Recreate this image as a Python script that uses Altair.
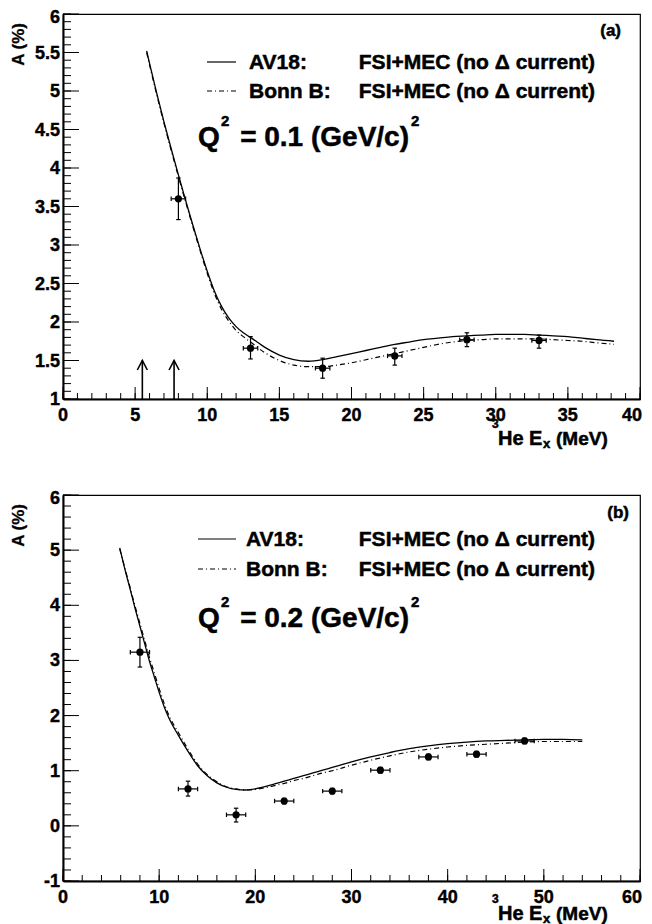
import altair as alt
import pandas as pd

FONT = "Arial"
BOLD = 700

# ---------------- panel (a): Q^2 = 0.1 (GeV/c)^2 ----------------
a_curve_x = [5.8, 6, 6.5, 7, 7.5, 8, 8.5, 9, 9.5, 10, 10.5, 11, 11.5, 12, 12.5, 13,
             14, 15, 16, 17, 18, 19, 20, 21, 22, 23, 24, 25, 26, 27, 28, 29, 30,
             31, 32, 33, 34, 35, 36, 37, 38.2]
a_av18 = [5.52, 5.36, 4.97, 4.60, 4.25, 3.91, 3.58, 3.26, 2.95, 2.66, 2.40, 2.20, 2.05, 1.94, 1.86, 1.80,
          1.67, 1.57, 1.51, 1.49, 1.51, 1.55, 1.59, 1.63, 1.67, 1.71, 1.74, 1.77, 1.79, 1.81, 1.82, 1.83, 1.84,
          1.84, 1.84, 1.83, 1.82, 1.81, 1.79, 1.77, 1.75]
a_bonn = [5.50, 5.34, 4.95, 4.58, 4.23, 3.89, 3.56, 3.24, 2.93, 2.63, 2.37, 2.16, 2.01, 1.89, 1.81, 1.74,
          1.60, 1.50, 1.44, 1.42, 1.42, 1.44, 1.47, 1.51, 1.55, 1.59, 1.63, 1.67, 1.71, 1.74, 1.76, 1.77, 1.78,
          1.78, 1.78, 1.78, 1.77, 1.76, 1.75, 1.73, 1.71]
a_pts_x = [8, 13, 18, 23, 28, 33]
a_pts_y = [3.60, 1.66, 1.40, 1.56, 1.77, 1.76]
a_pts_ylo = [3.33, 1.52, 1.27, 1.44, 1.68, 1.66]
a_pts_yhi = [3.87, 1.81, 1.53, 1.66, 1.86, 1.83]
a_pts_xerr = [0.5, 0.5, 0.5, 0.5, 0.5, 0.5]
a_arrow_x = [5.5, 7.7]
a_arrow_base = [1.0, 1.0]
a_arrow_tip = [1.5, 1.5]

# ---------------- panel (b): Q^2 = 0.2 (GeV/c)^2 ----------------
b_curve_x = [5.9, 6.5, 7, 7.5, 8, 8.5, 9, 9.5, 10, 10.5,
             11, 12, 13, 14, 15, 16, 17, 18, 19, 20, 21, 22, 23, 24, 25, 26, 27, 28,
             30, 32, 34, 36, 38, 40, 42, 44, 46, 48, 50, 52, 54]
b_av18 = [5.04, 4.61, 4.28, 3.94, 3.62, 3.30, 2.98, 2.70, 2.42, 2.17,
          1.96, 1.64, 1.35, 1.09, 0.91, 0.78, 0.70, 0.66, 0.65, 0.67, 0.71, 0.76, 0.81, 0.86, 0.91, 0.96, 1.01, 1.06,
          1.16, 1.25, 1.33, 1.40, 1.45, 1.49, 1.52, 1.54, 1.55, 1.56, 1.57, 1.57, 1.56]
b_bonn = [5.02, 4.63, 4.31, 3.98, 3.67, 3.36, 3.05, 2.77, 2.49, 2.23,
          2.01, 1.69, 1.39, 1.12, 0.93, 0.80, 0.71, 0.67, 0.65, 0.66, 0.69, 0.73, 0.77, 0.82, 0.86, 0.91, 0.96, 1.00,
          1.10, 1.19, 1.27, 1.34, 1.39, 1.43, 1.46, 1.48, 1.50, 1.52, 1.53, 1.53, 1.53]
b_pts_x = [8, 13, 18, 23, 28, 33, 38, 43, 48]
b_pts_y = [3.15, 0.67, 0.20, 0.45, 0.63, 1.01, 1.25, 1.30, 1.54]
b_pts_ylo = [2.88, 0.54, 0.07, 0.40, 0.58, 0.96, 1.20, 1.25, 1.49]
b_pts_yhi = [3.42, 0.81, 0.32, 0.50, 0.68, 1.06, 1.30, 1.35, 1.59]
b_pts_xerr = [1.0, 1.0, 1.0, 1.0, 1.0, 1.0, 1.0, 1.0, 1.0]

# axis ticks / labels
a_x_major = [0, 5, 10, 15, 20, 25, 30, 35, 40]
a_x_minor = list(range(0, 41))
a_y_major = [1, 1.5, 2, 2.5, 3, 3.5, 4, 4.5, 5, 5.5, 6]
a_y_minor = [round(1 + 0.1 * i, 1) for i in range(51)]
b_x_major = [0, 10, 20, 30, 40, 50, 60]
b_x_minor = list(range(0, 61, 2))
b_y_major = [-1, 0, 1, 2, 3, 4, 5, 6]
b_y_minor = [round(-1 + 0.2 * i, 1) for i in range(36)]

LEG_AV = "AV18:"
LEG_BONN = "Bonn B:"
LEG_DESC = "FSI+MEC (no \u0394 current)"
LABEL_SIZE = 18


def one():
    return pd.DataFrame({"d": [0]})


def txt(text, x, y, size, align="left", baseline="middle", angle=0, sw=0.5):
    kw = dict(text=text, font=FONT, fontWeight=BOLD, fontSize=size, align=align,
              baseline=baseline, color="black")
    if sw:
        kw["stroke"] = "black"
        kw["strokeWidth"] = sw
    if angle:
        kw["angle"] = angle
    return alt.Chart(one()).mark_text(**kw).encode(x=alt.value(x), y=alt.value(y))


def panel(p):
    W, H = p["W"], p["H"]
    xs = alt.Scale(domain=p["xdom"], nice=False, zero=False)
    ys = alt.Scale(domain=p["ydom"], nice=False, zero=False)
    xax = alt.Axis(values=p["xmaj"], labels=False, title=None)
    yax = alt.Axis(values=p["ymaj"], labels=False, title=None)

    def X(f):
        return alt.X(f, type="quantitative", scale=xs, axis=xax, title=None)

    def Y(f):
        return alt.Y(f, type="quantitative", scale=ys, axis=yax, title=None)

    curves = pd.DataFrame({"x": p["cx"], "av": p["av"], "bonn": p["bonn"]})
    av = alt.Chart(curves).mark_line(color="black", strokeWidth=1.3, interpolate="monotone").encode(
        x=X("x"), y=Y("av"))
    bonn = alt.Chart(curves).mark_line(color="black", strokeWidth=1.2, interpolate="monotone",
                                       strokeDash=[5, 3, 1, 3]).encode(x=X("x"), y=Y("bonn"))

    pts = pd.DataFrame({"x": p["px"], "y": p["py"], "lo": p["plo"], "hi": p["phi"]})
    pts["xlo"] = [a - e for a, e in zip(p["px"], p["pxe"])]
    pts["xhi"] = [a + e for a, e in zip(p["px"], p["pxe"])]
    ebar_y = alt.Chart(pts).mark_rule(color="black", strokeWidth=1.2).encode(
        x=X("x"), y=Y("lo"), y2="hi")
    ebar_x = alt.Chart(pts).mark_rule(color="black", strokeWidth=1.2).encode(
        x=X("xlo"), x2="xhi", y=Y("y"))
    caps_h = pd.DataFrame({"x": p["px"] + p["px"], "y": p["plo"] + p["phi"]})
    caps_v = pd.DataFrame({"x": list(pts["xlo"]) + list(pts["xhi"]), "y": p["py"] + p["py"]})
    cap_h = alt.Chart(caps_h).mark_point(shape="M-1,0L1,0", size=20, filled=False, color="black",
                                         strokeWidth=1.2, opacity=1).encode(x=X("x"), y=Y("y"))
    cap_v = alt.Chart(caps_v).mark_point(shape="M0,-1L0,1", size=20, filled=False, color="black",
                                         strokeWidth=1.2, opacity=1).encode(x=X("x"), y=Y("y"))
    dots = alt.Chart(pts).mark_circle(size=52, color="black", opacity=1).encode(x=X("x"), y=Y("y"))

    layers = [av, bonn, ebar_y, ebar_x, cap_h, cap_v, dots]

    # inward ROOT-style ticks
    for vals, ln in ((p["xmin"], 6), (p["xmaj"], 12)):
        layers.append(alt.Chart(pd.DataFrame({"t": vals})).mark_rule(color="black", strokeWidth=1).encode(
            x=X("t"), y=alt.value(H), y2=alt.value(H - ln)))
    for vals, ln in ((p["ymin"], 8), (p["ymaj"], 16)):
        layers.append(alt.Chart(pd.DataFrame({"t": vals})).mark_rule(color="black", strokeWidth=1).encode(
            y=Y("t"), x=alt.value(0), x2=alt.value(ln)))

    # tick labels (bold, heavy) placed through the scales
    lab_kw = dict(font=FONT, fontWeight=BOLD, fontSize=LABEL_SIZE, color="black",
                  stroke="black", strokeWidth=0.4)
    xl = pd.DataFrame({"t": p["xmaj"], "lab": [f"{v:g}" for v in p["xmaj"]]})
    layers.append(alt.Chart(xl.iloc[:-1]).mark_text(align="center", baseline="alphabetic", **lab_kw).encode(
        x=X("t"), y=alt.value(H + 22), text="lab:N"))
    layers.append(alt.Chart(xl.iloc[-1:]).mark_text(align="right", baseline="alphabetic", dx=2, **lab_kw).encode(
        x=X("t"), y=alt.value(H + 22), text="lab:N"))
    yl = pd.DataFrame({"t": p["ymaj"], "lab": [f"{v:g}" for v in p["ymaj"]]})
    layers.append(alt.Chart(yl.iloc[:-1]).mark_text(align="right", baseline="middle", dy=1, **lab_kw).encode(
        y=Y("t"), x=alt.value(-3), text="lab:N"))
    layers.append(alt.Chart(yl.iloc[-1:]).mark_text(align="right", baseline="middle", dy=4, **lab_kw).encode(
        y=Y("t"), x=alt.value(-3), text="lab:N"))

    if p.get("arrows"):
        ax, ab, at = p["arrows"]
        arr = pd.DataFrame({"x": ax, "b": ab, "t": at})
        layers.append(alt.Chart(arr).mark_rule(color="black", strokeWidth=1.6).encode(
            x=X("x"), y=Y("b"), y2="t"))
        layers.append(alt.Chart(arr).mark_point(shape="M-1,1.9L0,0L1,1.9", size=100, filled=False,
                                                color="black", strokeWidth=1.6, opacity=1).encode(
            x=X("x"), y=Y("t")))

    L = p["lay"]
    # legend
    layers.append(alt.Chart(one()).mark_rule(color="black", strokeWidth=1.2).encode(
        x=alt.value(L["lx0"]), x2=alt.value(173), y=alt.value(L["r1"] - 1)))
    layers.append(alt.Chart(one()).mark_rule(color="black", strokeWidth=1.2, strokeDash=[5, 3, 1, 3]).encode(
        x=alt.value(L["lx0"]), x2=alt.value(173), y=alt.value(L["r2"] - 1)))
    qb, xtb = L["qb"], L["xtb"]
    layers += [
        txt(LEG_AV, L["tx"], L["r1"], 21),
        txt(LEG_DESC, 532, L["r1"], 21, align="right"),
        txt(LEG_BONN, L["tx"], L["r2"], 21),
        txt(LEG_DESC, 532, L["r2"], 21, align="right"),
        txt(p["tag"], L["tagx"], L["tagy"], 17, align="right"),
        # Q^2 line
        txt("Q", 135, qb, 28, baseline="alphabetic"),
        txt("2", 158, qb - 20, 15, baseline="alphabetic"),
        txt(p["qtxt"], 346, qb, 28, align="right", baseline="alphabetic"),
        txt("2", 348, qb - 20, 15, baseline="alphabetic"),
        # x title
        txt("3", 429, xtb - 17, 12, baseline="alphabetic"),
        txt("He E", 435, xtb, 20, baseline="alphabetic"),
        txt("x", 480, xtb + 3, 13, baseline="alphabetic"),
        txt("(MeV)", 493, xtb, 19, baseline="alphabetic"),
        # y title
        txt("A (%)", -44, 9, 17, align="right", angle=270, sw=0.3),
    ]
    return alt.layer(*layers).properties(width=W, height=H)


top = panel(dict(W=577, H=385, xdom=[0, 40], ydom=[1, 6], cx=a_curve_x, av=a_av18, bonn=a_bonn,
                 px=a_pts_x, py=a_pts_y, plo=a_pts_ylo, phi=a_pts_yhi, pxe=a_pts_xerr,
                 xmaj=a_x_major, xmin=a_x_minor, ymaj=a_y_major, ymin=a_y_minor,
                 arrows=(a_arrow_x, a_arrow_base, a_arrow_tip), tag="(a)",
                 qtxt="= 0.1 (GeV/c)",
                 lay=dict(lx0=144, tx=186, r1=49, r2=78, tagx=558, tagy=17, qb=132, xtb=431)))
bottom = panel(dict(W=577, H=386, xdom=[0, 60], ydom=[-1, 6], cx=b_curve_x, av=b_av18, bonn=b_bonn,
                    px=b_pts_x, py=b_pts_y, plo=b_pts_ylo, phi=b_pts_yhi, pxe=b_pts_xerr,
                    xmaj=b_x_major, xmin=b_x_minor, ymaj=b_y_major, ymin=b_y_minor,
                    tag="(b)", qtxt="= 0.2 (GeV/c)",
                    lay=dict(lx0=135, tx=183, r1=45, r2=75, tagx=566, tagy=18, qb=132, xtb=425)))

chart = alt.vconcat(top, bottom, spacing=96, bounds="flush").properties(
    padding={"left": 1, "top": 0, "right": 0, "bottom": 0}
).configure_axis(
    grid=False, ticks=False, domainColor="black", domainWidth=2
).configure_view(stroke="black", strokeWidth=1.2)

chart.save("out.html", embed_options={"renderer": "svg", "actions": False})
